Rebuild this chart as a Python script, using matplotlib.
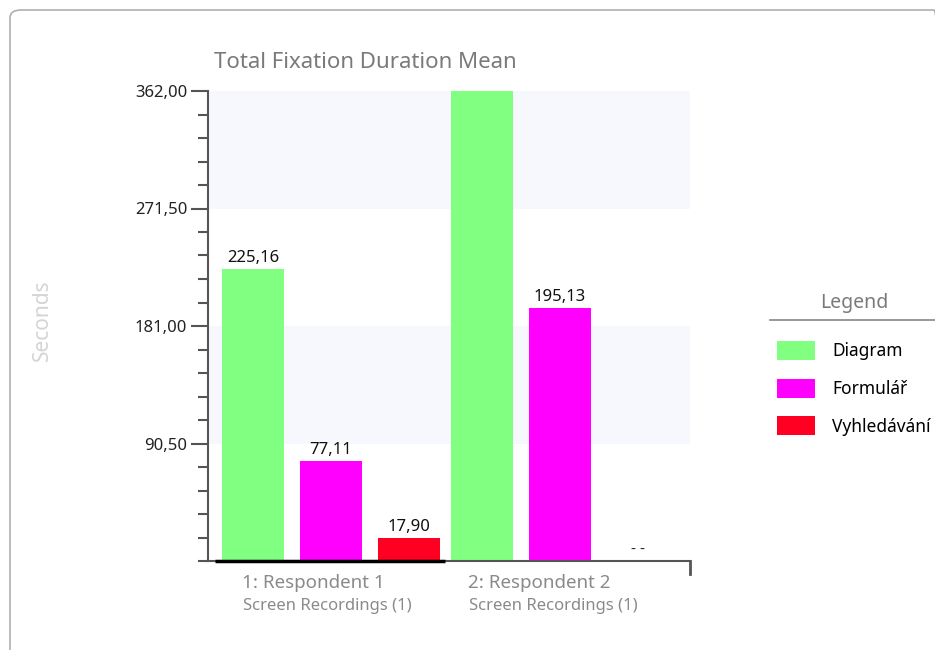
import matplotlib.pyplot as plt
import numpy as np
from matplotlib.patches import FancyBboxPatch, Patch
from matplotlib.lines import Line2D

plt.rcParams['font.family'] = ['Noto Sans', 'DejaVu Sans']

# Data
respondents = ['Respondent 1', 'Respondent 2']
respondent_ids = ['1:', '2:']
sub_labels = ['Screen Recordings (1)', 'Screen Recordings (1)']
series = ['Diagram', 'Formulář', 'Vyhledávání']
values = {
    'Diagram': [225.16, 362.00],
    'Formulář': [77.11, 195.13],
    'Vyhledávání': [17.90, None],
}
colors = ['#80FF80', '#FF00FF', '#FF0022']
y_ticks = [90.5, 181.0, 271.5, 362.0]


def fmt(v):
    return f'{v:.2f}'.replace('.', ',')


def main():
    fig = plt.figure(figsize=(9.35, 6.5), dpi=100)
    ax = fig.add_axes([208 / 935, 1 - 561 / 650, 482 / 935, 470 / 650])

    # Rahmen um das ganze Diagramm
    frame = FancyBboxPatch((10 / 935, -0.05), 1.0, 1 - 10 / 650 + 0.05, transform=fig.transFigure,
                           boxstyle='round,pad=0,rounding_size=0.012', fc='none', ec='#b0b0b0', lw=1.2)
    fig.patches.append(frame)

    ymax = y_ticks[-1]
    # abwechselnde Bänder
    for lo, hi in [(90.5, 181.0), (271.5, 362.0)]:
        ax.axhspan(lo, hi, color='#F7F8FD', zorder=0, lw=0)

    x = np.arange(len(respondents))
    step, width = 0.34, 0.272
    for i, name in enumerate(series):
        for j, v in enumerate(values[name]):
            xpos = x[j] + (i - 1) * step
            if v is None:
                ax.text(xpos, 3, '- -', ha='center', va='bottom', fontsize=11, color='#222222')
                continue
            ax.bar(xpos, v, width=width, color=colors[i], zorder=2)
            if v < ymax:
                ax.text(xpos, v + 2, fmt(v), ha='center', va='bottom', fontsize=12, color='#111111')

    # dunkle Grundlinie unter der ersten Gruppe
    ax.plot([x[0] - step - width / 2 - 0.03, x[0] + step + width / 2 + 0.02], [0, 0],
            color='black', lw=2.5, zorder=3, clip_on=False, solid_capstyle='butt')

    ax.set_xlim(-0.537, 1.568)
    ax.set_ylim(0, ymax)
    ax.set_yticks(y_ticks)
    ax.set_yticklabels([fmt(t) for t in y_ticks], fontsize=12, color='#222222')
    ax.yaxis.set_minor_locator(plt.MultipleLocator(18.1))
    ax.tick_params(axis='y', which='major', length=12, width=1.5, color='#555555', pad=3)
    ax.tick_params(axis='y', which='minor', length=7, width=1.5, color='#555555')
    ax.set_xticks([])

    for s in ['top', 'right']:
        ax.spines[s].set_visible(False)
    ax.spines['left'].set_color('#555555')
    ax.spines['left'].set_linewidth(1.5)
    ax.spines['bottom'].set_color('#555555')
    ax.spines['bottom'].set_linewidth(1.5)
    # Endstrich rechts an der x-Achse
    ax.plot([1.568, 1.568], [0, -10], color='#555555', lw=2, clip_on=False)

    # Gruppenbeschriftungen
    for j in range(len(respondents)):
        xl = x[j] - 0.39 - 0.01 * j
        ax.annotate(f'{respondent_ids[j]} {respondents[j]}', (xl, 0), xytext=(0, -22),
                    textcoords='offset pixels', ha='left', va='center', fontsize=13.5, color='#8a8a8a',
                    annotation_clip=False)
        ax.annotate(sub_labels[j], (xl + 0.005, 0), xytext=(0, -45), textcoords='offset pixels',
                    ha='left', va='center', fontsize=12, color='#8a8a8a', annotation_clip=False)

    fig.text(214 / 935, 1 - 62 / 650, 'Total Fixation Duration Mean', fontsize=16, color='#7a7a7a',
             ha='left', va='center')
    fig.text(42 / 935, 1 - 320 / 650, 'Seconds', rotation=90, fontsize=15, fontweight='bold',
             color='#d4d4d4', ha='center', va='center')

    handles = [Patch(facecolor=c, edgecolor='none') for c in colors]
    leg = fig.legend(handles, series, loc='upper left', bbox_to_anchor=(770 / 935, 1 - 286 / 650),
                     frameon=False, title='Legend', fontsize=12.5, handlelength=2.2, handleheight=1.3,
                     labelspacing=1.07, handletextpad=1.0, borderaxespad=0)
    leg.get_title().set_color('#7a7a7a')
    leg.get_title().set_fontsize(14)
    leg._legend_box.sep = 20
    fig.add_artist(Line2D([770 / 935, 1.0], [1 - 320 / 650] * 2, transform=fig.transFigure,
                          color='#888888', lw=1.2))

    fig.savefig('out.png', dpi=100)


if __name__ == '__main__':
    main()
